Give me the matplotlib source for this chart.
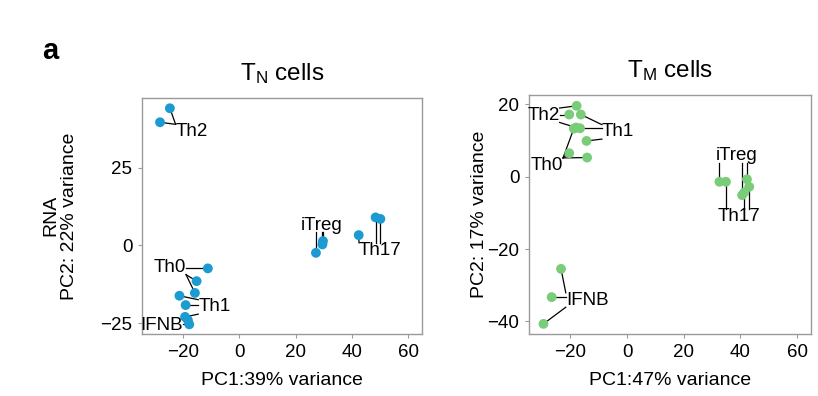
import numpy as np
import matplotlib
matplotlib.use("Agg")
import matplotlib.pyplot as plt

plt.rcParams["font.family"] = ["Liberation Sans", "DejaVu Sans"]
plt.rcParams["mathtext.default"] = "regular"

# ---- T_N cells (PCA of RNA) ----
TN_GROUPS = ["Th2", "Th0", "Th1", "IFNB", "iTreg", "Th17"]
TN_PC1 = [[-24.7, -28.2],
          [-11.2, -15.2, -15.8],
          [-21.3, -19.1, -19.3],
          [-18.3, -17.8],
          [27.2, 29.7, 29.5],
          [42.4, 48.4, 50.1]]
TN_PC2 = [[44.1, 39.6],
          [-7.4, -11.5, -15.3],
          [-16.2, -19.2, -23.0],
          [-24.0, -25.4],
          [-2.4, 1.4, 0.3],
          [3.3, 9.0, 8.5]]
TN_LABEL_XY = [(-16.9, 36.6), (-24.7, -7.1), (-8.9, -19.8),
               (-27.6, -25.7), (29.1, 6.5), (50.1, -1.5)]

# ---- T_M cells ----
TM_GROUPS = ["Th2", "Th1", "Th0", "iTreg", "Th17", "IFNB"]
TM_PC1 = [[-17.8, -20.4, -18.0],
          [-16.3, -16.6, -14.3],
          [-18.8, -20.4, -14.1],
          [32.6, 40.6, 42.3],
          [34.9, 41.4, 43.1],
          [-23.3, -26.6, -29.5]]
TM_PC2 = [[19.6, 17.2, 13.6],
          [17.2, 13.4, 9.9],
          [13.3, 6.5, 5.3],
          [-1.4, -5.1, -0.7],
          [-1.4, -4.3, -2.8],
          [-25.5, -33.3, -40.7]]
TM_LABEL_XY = [(-29.5, 17.0), (-3.2, 12.4), (-28.3, 3.2),
               (38.5, 5.8), (39.4, -11.0), (-14.1, -34.1)]

XTICKS = [-20, 0, 20, 40, 60]


def _panel(fig, rect, xs, ys, groups, label_xy, color, ylim, yticks,
           title, xlabel, ylabel, ylab_x):
    ax = fig.add_axes(rect)
    ax.set_xlim(-34.6, 64.8)
    ax.set_ylim(*ylim)
    ax.set_xticks(XTICKS)
    ax.set_yticks(yticks)
    ax.set_xticklabels([str(t).replace("-", "\u2212") for t in XTICKS])
    ax.set_yticklabels([str(t).replace("-", "\u2212") for t in yticks])
    for sp in ax.spines.values():
        sp.set_color("#9a9a9a")
        sp.set_linewidth(1.0)
    ax.tick_params(length=3, width=0.8, color="#9a9a9a", labelsize=13.5,
                   pad=4)
    ax.set_title(title, fontsize=17.5, pad=13)
    ax.set_xlabel(xlabel, fontsize=14)
    ax.set_ylabel(ylabel, fontsize=14, multialignment="center",
                  linespacing=1.1)
    ax.xaxis.set_label_coords(0.5, -0.16)
    ax.yaxis.set_label_coords(ylab_x, 0.5)

    texts = []
    for g, (lx, ly) in zip(groups, label_xy):
        texts.append(ax.text(lx, ly, g, ha="center", va="center",
                             fontsize=13.5, zorder=4))
    for gx, gy in zip(xs, ys):
        ax.scatter(gx, gy, s=50, color=color, edgecolors="none", zorder=3)
    return ax, texts, xs, ys


def _segments(fig, panels):
    # ggrepel-style leader lines: point -> nearest point on its label box
    fig.canvas.draw()
    r = fig.canvas.get_renderer()
    for ax, texts, xs, ys in panels:
        inv = ax.transData.inverted()
        for t, gx, gy in zip(texts, xs, ys):
            bb = t.get_window_extent(r).expanded(1.0, 0.85)
            (x0, y0), (x1, y1) = inv.transform([[bb.x0, bb.y0], [bb.x1, bb.y1]])
            for px, py in zip(gx, gy):
                cx = min(max(px, x0), x1)
                cy = min(max(py, y0), y1)
                ax.plot([px, cx], [py, cy], color="black", lw=0.9, zorder=2)


fig = plt.figure(figsize=(8.18, 3.96), dpi=100)
fig.text(0.052, 0.85, "a", fontsize=21, fontweight="bold")

p1 = _panel(fig, [0.1736, 0.1566, 0.342, 0.5967], TN_PC1, TN_PC2, TN_GROUPS,
            TN_LABEL_XY, "#1b9bd1", (-28.5, 47.5), [-25, 0, 25],
            "$T_N$ cells", "PC1:39% variance",
            "RNA\nPC2: 22% variance", -0.23)
p2 = _panel(fig, [0.6467, 0.1566, 0.3444, 0.6035], TM_PC1, TM_PC2, TM_GROUPS,
            TM_LABEL_XY, "#7acd78", (-43.5, 22.6), [-40, -20, 0, 20],
            "$T_M$ cells", "PC1:47% variance",
            "PC2: 17% variance", -0.145)
_segments(fig, [p1, p2])

fig.savefig("out.png", dpi=100)
